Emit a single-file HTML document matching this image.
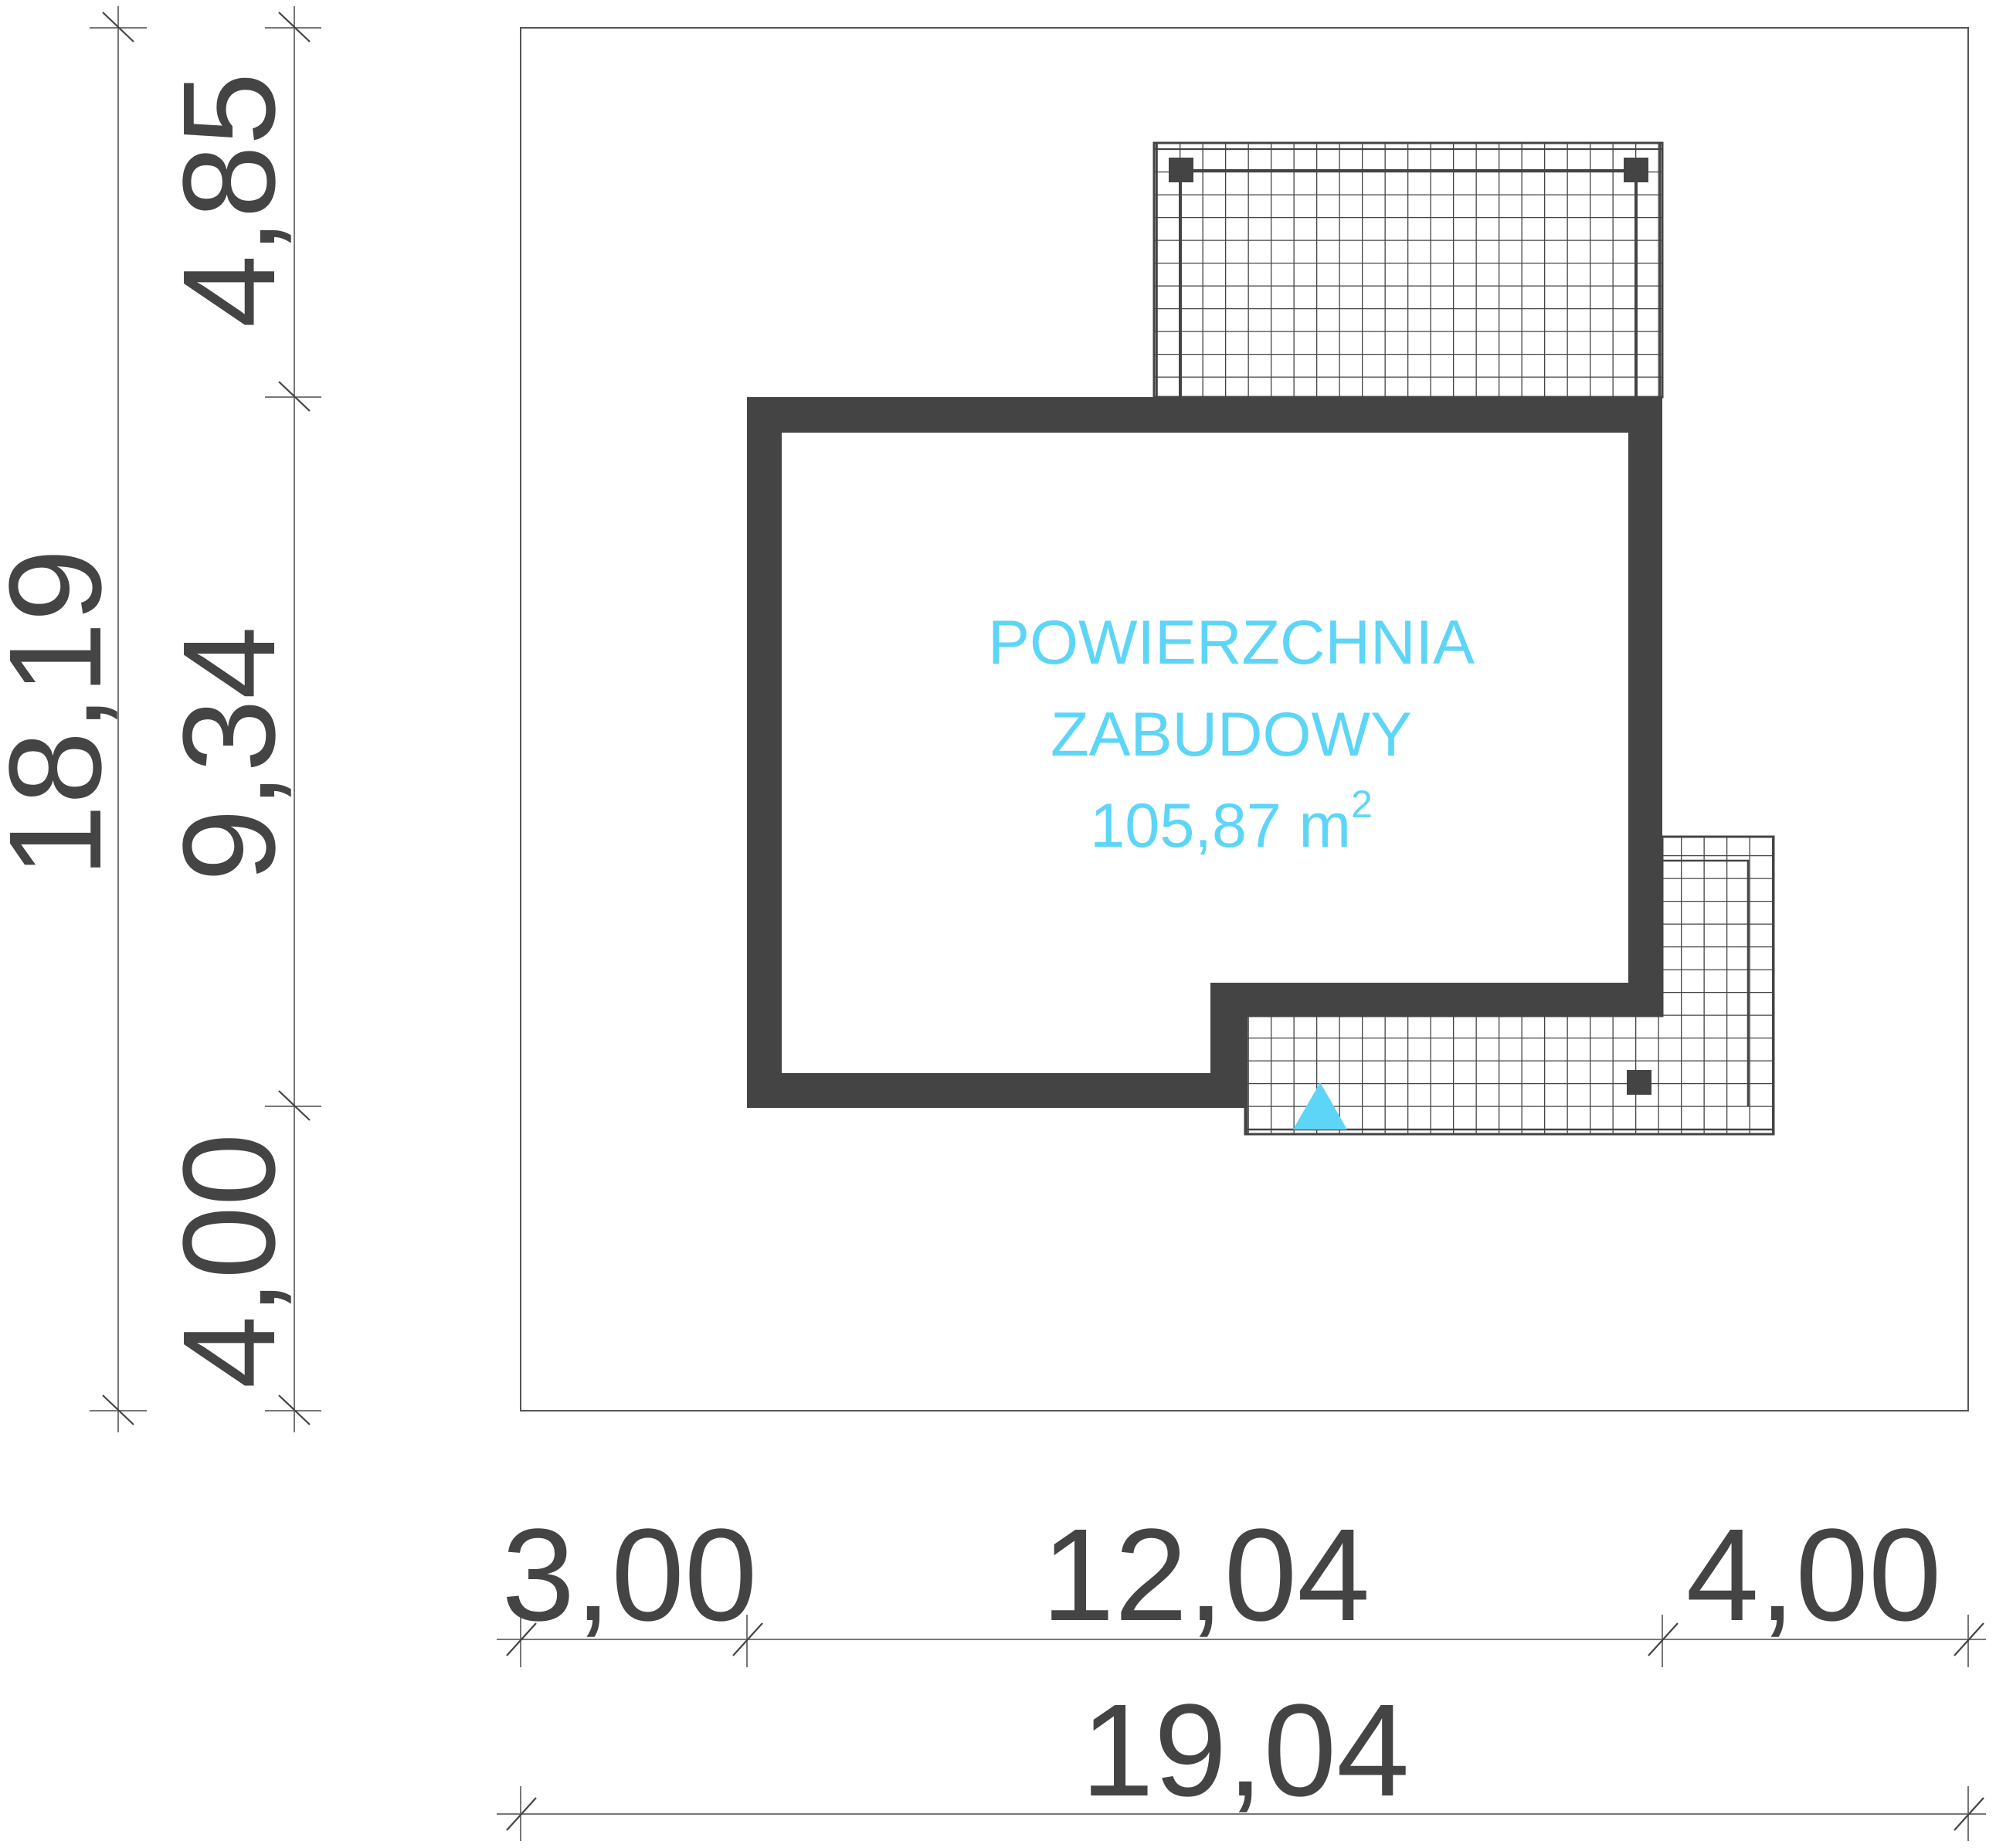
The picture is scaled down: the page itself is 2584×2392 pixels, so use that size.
<!DOCTYPE html>
<html><head><meta charset="utf-8"><style>html,body{margin:0;padding:0;background:#fff}svg{display:block}</style></head>
<body>
<svg width="2584" height="2392" viewBox="0 0 2584 2392" xmlns="http://www.w3.org/2000/svg">
<defs>
<pattern id="g1" x="1527" y="222" width="29.5" height="29.5" patternUnits="userSpaceOnUse">
<path d="M0 0V29.5M0 0H29.5" stroke="#444" stroke-width="2.6" fill="none"/>
</pattern>
<pattern id="g2" x="1645" y="1343" width="29.5" height="29.5" patternUnits="userSpaceOnUse">
<path d="M0 0V29.5M0 0H29.5" stroke="#444" stroke-width="2.6" fill="none"/>
</pattern>
</defs>
<rect x="674" y="36" width="1874" height="1790" fill="none" stroke="#555" stroke-width="2"/>
<!-- top terrace grid -->
<rect x="1494" y="185" width="658" height="329" fill="url(#g1)" stroke="#444" stroke-width="3"/>
<path d="M1497 186V514M1495 193H2152M2149 186V514" stroke="#444" stroke-width="2.2" fill="none"/>
<path d="M1528 221H2118M1528 221V514M2118 221V514" stroke="#444" stroke-width="4" fill="none"/>
<rect x="1513" y="204" width="32" height="32" fill="#444"/>
<rect x="2102" y="204" width="32" height="32" fill="#444"/>
<!-- bottom terrace grid -->
<path d="M1612 1315H2152V1083H2296V1468H1612Z" fill="url(#g2)" stroke="#444" stroke-width="3"/>
<path d="M1614 1315V1468M1612 1462H2296M2152 1114H2263V1432" stroke="#444" stroke-width="2.5" fill="none"/>
<rect x="2106" y="1385" width="32" height="32" fill="#444"/>
<polygon points="1709,1401 1744,1462 1674,1462" fill="#5dd5f7"/>
<!-- building walls -->
<path d="M967 514H2152V1315H1612V1434H967Z M1012 560V1389H1567V1272H2108V560Z" fill="#444" fill-rule="evenodd"/>
<g fill="#5dd5f7" font-family="Liberation Sans, Arial, sans-serif" font-size="81" text-anchor="middle">
<text x="1594" y="859">POWIERZCHNIA</text>
<text x="1594" y="978">ZABUDOWY</text>
<text x="1594" y="1096">105,87 m<tspan font-size="50" dy="-38">2</tspan></text>
</g>
<g stroke="#777" stroke-width="2" fill="none">
<path d="M153 8V1854M381 8V1854"/>
<path d="M116 36H190M116 1826H190M343 36H416M343 514H416M343 1432H416M343 1826H416"/>
</g>
<g stroke="#444" stroke-width="2.2">
<path d="M133 16L173 54M133 1806L173 1844M361 16L401 54M361 494L401 532M361 1412L401 1450M361 1806L401 1844"/>
</g>
<g stroke="#777" stroke-width="2" fill="none">
<path d="M643 2122H2571M643 2348H2571"/>
<path d="M674 2090V2158M967 2090V2158M2152 2090V2158M2548 2090V2158M674 2312V2383M2548 2312V2383"/>
</g>
<g stroke="#444" stroke-width="2.2">
<path d="M656 2143L694 2101M949 2143L987 2101M2134 2143L2172 2101M2530 2143L2568 2101M656 2369L694 2327M2530 2369L2568 2327"/>
</g>
<g fill="#444" font-family="Liberation Sans, Arial, sans-serif" font-size="170" text-anchor="middle">
<text x="815" y="2097">3,00</text>
<text x="1561" y="2097">12,04</text>
<text x="2348" y="2097">4,00</text>
<text x="1612" y="2324">19,04</text>
<text transform="translate(130,923) rotate(-90)">18,19</text>
<text transform="translate(355,259) rotate(-90)">4,85</text>
<text transform="translate(355,976) rotate(-90)">9,34</text>
<text transform="translate(355,1632) rotate(-90)">4,00</text>
</g>
</svg>
</body></html>
